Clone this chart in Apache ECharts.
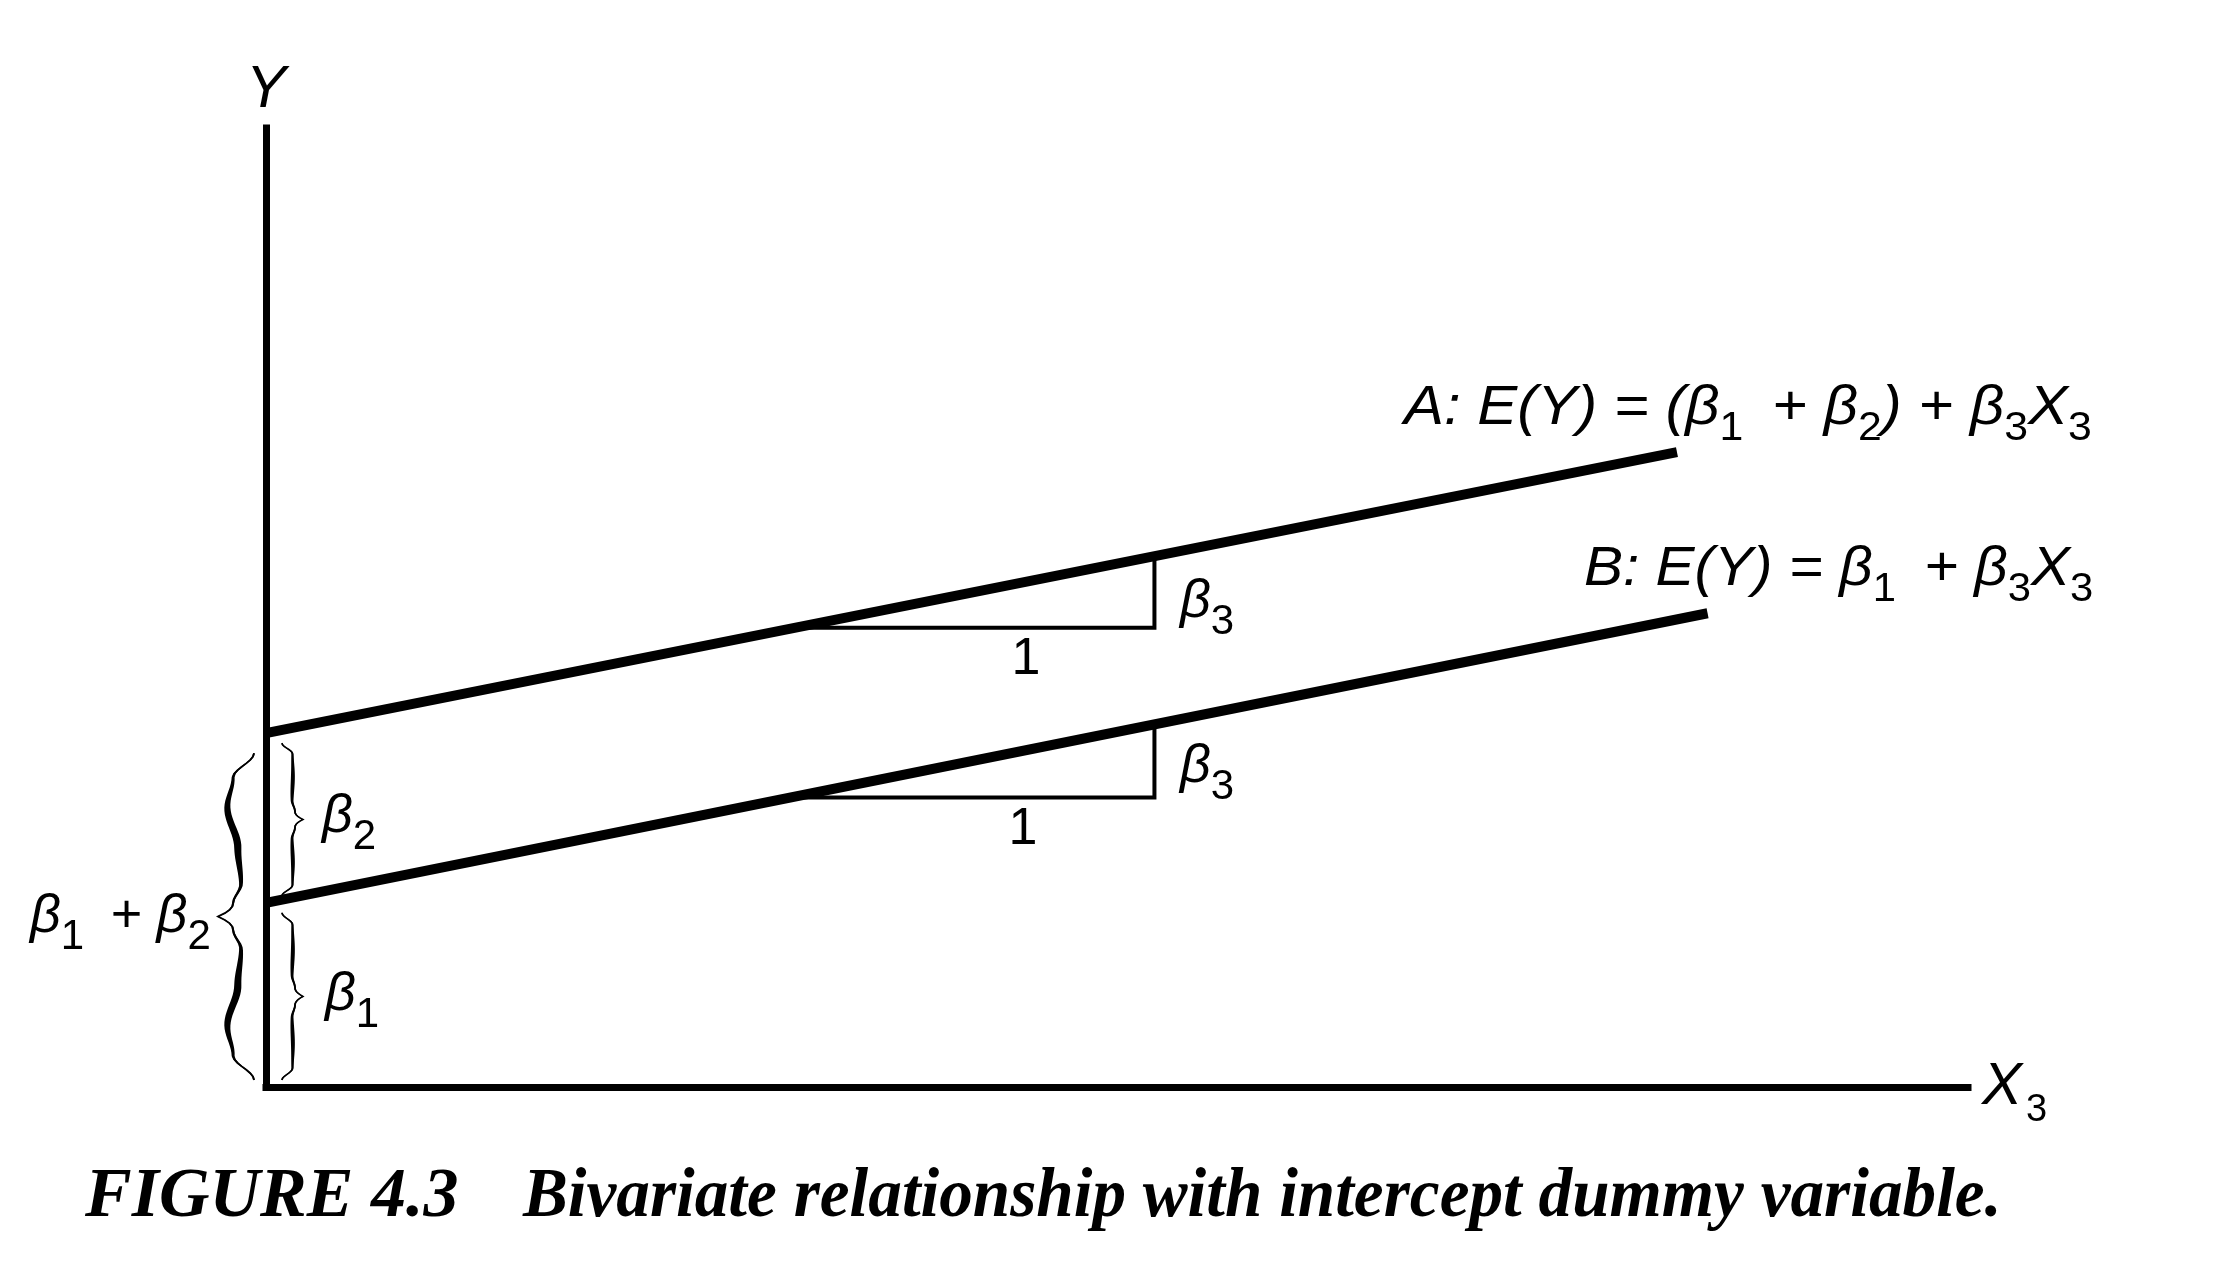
<!DOCTYPE html>
<html><head><meta charset="utf-8">
<script src="https://cdn.jsdelivr.net/npm/echarts@6/dist/echarts.min.js"></script>
<style>html,body{margin:0;padding:0;background:#fff}#c{width:2217px;height:1275px}</style>
</head><body><div id="c"></div>
<script>
// ---- data (axis units: X3 0..10, Y 0..10) ----
const lineA = [[0, 3.69], [8.29, 6.62]];          // A: E(Y) = (b1 + b2) + b3 X3
const lineB = [[0, 1.92], [8.47, 4.94]];          // B: E(Y) = b1 + b3 X3
const slopeTriangleA = [[3.12, 4.79], [5.22, 4.79], [5.22, 5.53]];
const slopeTriangleB = [[3.08, 3.02], [5.22, 3.02], [5.22, 3.78]];
const braceSpans = [[0, 1.92], [1.92, 3.69], [0, 3.69]]; // beta1, beta2, beta1+beta2
const axisNameX = ['X', '3'];
const axisNameY = 'Y';
const labelA = '{m|A: E(Y) = (β}{s|1}{m| \u2009+ β}{s|2}{m|) + β}{s|3}{m|X}{s|3}';
const labelB = '{m|B: E(Y) = β}{s|1}{m| \u2009+ β}{s|3}{m|X}{s|3}';
const labelBeta3 = '{m|β}{s|3}';
const labelBeta2 = '{m|β}{s|2}';
const labelBeta1 = '{m|β}{s|1}';
const labelBeta12 = '{m|β}{s|1}{m| \u2009+ β}{s|2}';
const labelUnit = '1';
const captionNumber = 'FIGURE 4.3';
const captionText = 'Bivariate relationship with intercept dummy variable.';

const SANS = '"Liberation Sans", Arial, "DejaVu Sans", sans-serif';
const SERIF = '"Liberation Serif", "DejaVu Serif", serif';
const chart = echarts.init(document.getElementById('c'), null, {renderer: 'canvas'});

const rich = {
  m: {fontFamily: SANS, fontStyle: 'italic', fontSize: 56, fill: '#000'},
  s: {fontFamily: SANS, fontSize: 40, fill: '#000', padding: [42, 0, 0, 0]}
};
const richBeta = {
  m: {fontFamily: SANS, fontStyle: 'italic', fontSize: 54, fill: '#000'},
  s: {fontFamily: SANS, fontSize: 42, fill: '#000', padding: [40, 0, 0, 0]}
};
function rt(text, x, y, r, scaleX) {
  return {type: 'text', x: x, y: y, scaleX: scaleX || 1, z: 10,
    style: {text: text, rich: r, align: 'left', verticalAlign: 'middle', fill: '#000'}};
}

// calligraphic curly brace glyph, drawn along the Y axis between two data values
const BIG_PROFILE = [[0, 0], [0.15, 0.58], [0.33, 0.74], [0.58, 0.45], [0.8, 0.36], [0.92, 0.58], [1, 1]];
const SMALL_PROFILE = [[0, 0], [0.14, 0.5], [0.4, 0.52], [0.75, 0.48], [0.9, 0.62], [1, 1]];
function profileAt(p, s) {
  for (let k = 0; k < p.length - 1; k++) {
    if (s <= p[k + 1][0]) {
      const f = (s - p[k][0]) / (p[k + 1][0] - p[k][0]);
      const last = (k === p.length - 2);
      const g = last ? f * f : (1 - Math.cos(Math.PI * f)) / 2;
      return p[k][1] + (p[k + 1][1] - p[k][1]) * g;
    }
  }
  return p[p.length - 1][1];
}
function braceRender(params, api) {
  const i = params.dataIndex;
  const pTop = api.coord([0, api.value(1)]);
  const pBot = api.coord([0, api.value(0)]);
  const ax = pTop[0];
  const big = (i === 2);
  const top = pTop[1] + (big ? 20 : 10);
  const bot = pBot[1] - 7;
  const mid = (top + bot) / 2;
  const dir = big ? -1 : 1;
  const endOff = big ? 12 : 16;
  const tipOff = big ? 48 : 37;
  const prof = big ? BIG_PROFILE : SMALL_PROFILE;
  const wMin = big ? 1.8 : 1.6, wMax = big ? 7.5 : 4;
  const N = 48;
  const center = [], widths = [];
  for (let n = 0; n <= N; n++) {
    const s = n / N;
    center.push([ax + dir * (endOff + (tipOff - endOff) * profileAt(prof, s)), top + s * (mid - top)]);
    widths.push(wMin + (wMax - wMin) * Math.pow(Math.sin(Math.PI * s), 2));
  }
  for (let n = N - 1; n >= 0; n--) {
    const s = n / N;
    center.push([ax + dir * (endOff + (tipOff - endOff) * profileAt(prof, s)), bot - s * (bot - mid)]);
    widths.push(wMin + (wMax - wMin) * Math.pow(Math.sin(Math.PI * s), 2));
  }
  const poly = [];
  for (let n = 0; n < center.length; n++) poly.push([center[n][0] - widths[n] / 2, center[n][1]]);
  for (let n = center.length - 1; n >= 0; n--) poly.push([center[n][0] + widths[n] / 2, center[n][1]]);
  return {type: 'group', children: [
    {type: 'polygon', shape: {points: poly}, style: {fill: '#000', stroke: 'none'}},
    {type: 'polyline', shape: {points: center}, style: {stroke: '#000', fill: 'none', lineWidth: wMin}}
  ]};
}

const lineStyleMain = {color: '#000', width: 10, cap: 'butt'};
const lineStyleTri = {color: '#000', width: 4, join: 'miter'};

chart.setOption({
  animation: false,
  backgroundColor: '#fff',
  grid: {left: 266, right: 249, top: 128, bottom: 188, containLabel: false},
  xAxis: {
    type: 'value', min: 0, max: 10,
    axisLine: {show: true, onZero: false, lineStyle: {color: '#000', width: 7, cap: 'square'}},
    axisTick: {show: false}, axisLabel: {show: false}, splitLine: {show: false},
    name: '{v|' + axisNameX[0] + '}{s|' + axisNameX[1] + '}',
    nameLocation: 'end', nameGap: 14,
    nameTextStyle: {rich: {
      v: {fontFamily: SANS, fontStyle: 'italic', fontSize: 60, color: '#000'},
      s: {fontFamily: SANS, fontSize: 38, color: '#000', padding: [48, 0, 0, 4]}
    }}
  },
  yAxis: {
    type: 'value', min: 0, max: 10,
    axisLine: {show: true, onZero: false, lineStyle: {color: '#000', width: 7, cap: 'square'}},
    axisTick: {show: false}, axisLabel: {show: false}, splitLine: {show: false},
    name: axisNameY, nameLocation: 'end', nameGap: 8,
    nameTextStyle: {fontFamily: SANS, fontStyle: 'italic', fontSize: 60, color: '#000', align: 'center'}
  },
  series: [
    {type: 'line', name: 'A', data: lineA, symbol: 'none', lineStyle: lineStyleMain, z: 3},
    {type: 'line', name: 'B', data: lineB, symbol: 'none', lineStyle: lineStyleMain, z: 3},
    {type: 'line', name: 'slopeA', data: slopeTriangleA, symbol: 'none', lineStyle: lineStyleTri, z: 3},
    {type: 'line', name: 'slopeB', data: slopeTriangleB, symbol: 'none', lineStyle: lineStyleTri, z: 3},
    {type: 'custom', name: 'braces', data: braceSpans, renderItem: braceRender, clip: false, z: 4}
  ],
  graphic: [
    rt(labelA, 1404, 408, rich, 1.07),
    rt(labelB, 1584, 569, rich, 1.045),
    rt(labelBeta3, 1180, 602, richBeta),
    rt(labelBeta3, 1180, 767, richBeta),
    rt(labelBeta2, 322, 817, richBeta),
    rt(labelBeta1, 325, 995, richBeta),
    rt(labelBeta12, 30, 917, richBeta),
    {type: 'text', x: 1026, y: 660, style: {text: labelUnit, font: 'normal 52px ' + SANS, fill: '#000', align: 'center', verticalAlign: 'middle'}},
    {type: 'text', x: 1023, y: 830, style: {text: labelUnit, font: 'normal 52px ' + SANS, fill: '#000', align: 'center', verticalAlign: 'middle'}},
    {type: 'text', x: 85, y: 1198, style: {text: captionNumber, font: 'italic bold 70px ' + SERIF, fill: '#000', align: 'left', verticalAlign: 'middle'}},
    {type: 'text', x: 523, y: 1198, scaleX: 0.96, style: {text: captionText, font: 'italic bold 70px ' + SERIF, fill: '#000', align: 'left', verticalAlign: 'middle'}}
  ]
});
</script></body></html>
